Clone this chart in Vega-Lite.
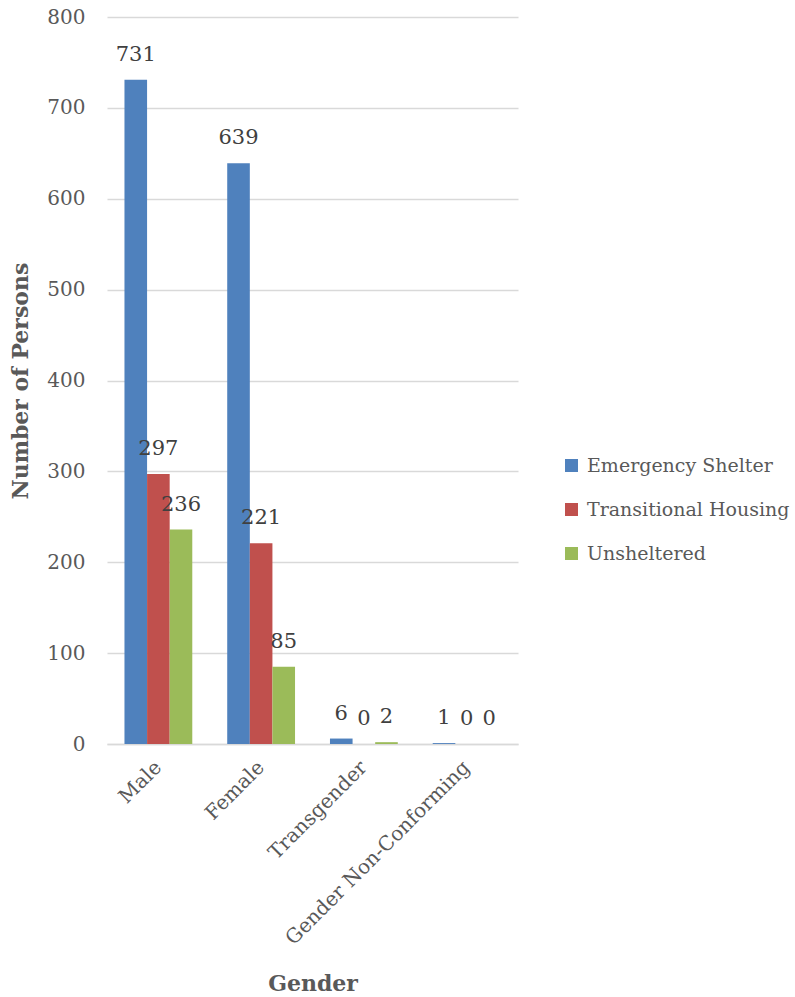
{
  "$schema": "https://vega.github.io/schema/vega-lite/v6.json",
  "width": 411,
  "height": 727,
  "autosize": {"type": "none"},
  "padding": {"left": 107, "top": 17, "right": 277, "bottom": 253},
  "background": "white",
  "config": {
    "view": {"stroke": null},
    "font": "DejaVu Serif"
  },
  "data": {
    "values": [
      {"gender": "Male", "type": "Emergency Shelter", "count": 731},
      {"gender": "Male", "type": "Transitional Housing", "count": 297},
      {"gender": "Male", "type": "Unsheltered", "count": 236},
      {"gender": "Female", "type": "Emergency Shelter", "count": 639},
      {"gender": "Female", "type": "Transitional Housing", "count": 221},
      {"gender": "Female", "type": "Unsheltered", "count": 85},
      {"gender": "Transgender", "type": "Emergency Shelter", "count": 6},
      {"gender": "Transgender", "type": "Transitional Housing", "count": 0},
      {"gender": "Transgender", "type": "Unsheltered", "count": 2},
      {"gender": "Gender Non-Conforming", "type": "Emergency Shelter", "count": 1},
      {"gender": "Gender Non-Conforming", "type": "Transitional Housing", "count": 0},
      {"gender": "Gender Non-Conforming", "type": "Unsheltered", "count": 0}
    ]
  },
  "encoding": {
    "x": {
      "field": "gender",
      "type": "nominal",
      "sort": ["Male", "Female", "Transgender", "Gender Non-Conforming"],
      "scale": {"paddingInner": 0.34, "paddingOuter": 0.17},
      "axis": {
        "title": "Gender",
        "titleFont": "DejaVu Serif",
        "titleFontSize": 22,
        "titleFontWeight": "bold",
        "titleColor": "#595959",
        "titlePadding": 29,
        "labelAngle": -45,
        "labelAlign": "right",
        "labelBaseline": "middle",
        "labelFont": "DejaVu Serif",
        "labelFontSize": 20,
        "labelColor": "#595959",
        "labelPadding": 20,
        "labelLimit": 0,
        "ticks": false,
        "domainColor": "#D9D9D9",
        "domainWidth": 1.5,
        "grid": false
      }
    },
    "xOffset": {
      "field": "type",
      "type": "nominal",
      "sort": ["Emergency Shelter", "Transitional Housing", "Unsheltered"]
    },
    "y": {
      "field": "count",
      "type": "quantitative",
      "scale": {"domain": [0, 800], "nice": false},
      "axis": {
        "title": "Number of Persons",
        "titleFont": "DejaVu Serif",
        "titleFontSize": 22,
        "titleFontWeight": "bold",
        "titleColor": "#595959",
        "titlePadding": 14,
        "values": [0, 100, 200, 300, 400, 500, 600, 700, 800],
        "labelFont": "DejaVu Serif",
        "labelFontSize": 20,
        "labelColor": "#595959",
        "labelPadding": 22,
        "ticks": false,
        "domain": false,
        "grid": true,
        "gridColor": "#D9D9D9",
        "gridWidth": 1.5
      }
    }
  },
  "layer": [
    {
      "mark": {"type": "bar"},
      "encoding": {
        "color": {
          "field": "type",
          "type": "nominal",
          "sort": ["Emergency Shelter", "Transitional Housing", "Unsheltered"],
          "scale": {
            "domain": ["Emergency Shelter", "Transitional Housing", "Unsheltered"],
            "range": ["#4F81BD", "#C0504D", "#9BBB59"]
          },
          "legend": {
            "title": null,
            "orient": "none",
            "legendX": 455,
            "legendY": 439,
            "symbolType": "square",
            "symbolSize": 170,
            "symbolStrokeWidth": 0,
            "labelFont": "DejaVu Serif",
            "labelFontSize": 19,
            "labelColor": "#595959",
            "labelLimit": 0,
            "rowPadding": 24,
            "labelOffset": 6
          }
        }
      }
    },
    {
      "mark": {
        "type": "text",
        "dy": -25,
        "baseline": "middle",
        "align": "center",
        "fontSize": 21,
        "font": "DejaVu Serif",
        "color": "#404040"
      },
      "encoding": {
        "text": {"field": "count", "type": "quantitative"}
      }
    }
  ]
}
